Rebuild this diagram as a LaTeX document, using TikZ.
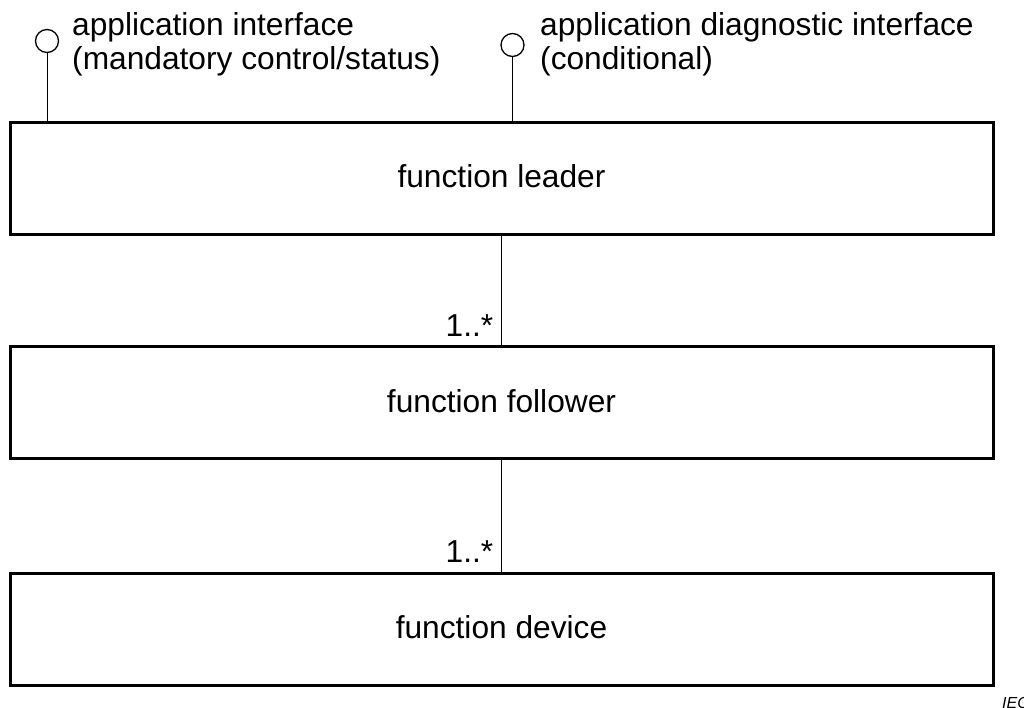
\documentclass[tikz,border=0pt]{standalone}
\usepackage{fontspec}
\setmainfont{Liberation Sans}
\begin{document}
\begin{tikzpicture}[x=1pt,y=-1pt,
  box/.style={draw=black, line width=3pt, minimum width=983pt, minimum height=112pt, inner sep=0pt,
    font=\fontsize{31.7}{34}\selectfont},
  lolli/.style={draw=black, circle, line width=1.3pt, minimum size=23pt, inner sep=0pt},
  conn/.style={draw=black, line width=1pt},
  toptext/.style={anchor=north west, align=left, inner sep=0pt, font=\fontsize{31.7}{34}\selectfont},
  mult/.style={anchor=base east, inner sep=0pt, font=\fontsize{31.7}{34}\selectfont}]
\useasboundingbox (0,0) rectangle (1024,708);
\node[box, text height=22pt, text depth=4pt] (b1) at (501.5,178.5) {function leader};
\node[box, text height=23pt, text depth=4pt] (b2) at (501.5,402.5) {function follower};
\node[box, text height=23pt, text depth=4pt] (b3) at (501.5,629) {function device};
\node[lolli] (c1) at (47,41) {};
\node[lolli] (c2) at (512.5,45) {};
\draw[conn] (c1.south) -- (c1.south |- b1.north);
\draw[conn] (c2.south) -- (c2.south |- b1.north);
\node[toptext] (t1) at (72,12) {application interface\\(mandatory control/status)};
\node[toptext] (t2) at (540,12) {application diagnostic interface\\(conditional)};
\draw[conn] (b1.south) -- (b2.north);
\draw[conn] (b2.south) -- (b3.north);
\node[mult] (m1) at ([xshift=-8pt,yshift=9pt]b2.north) {1..*};
\node[mult] (m2) at ([xshift=-8pt,yshift=9pt]b3.north) {1..*};
\node[anchor=base west, inner sep=0pt, font=\fontsize{16}{18}\selectfont\itshape] (iec) at (1002,708) {IEC};
\end{tikzpicture}
\end{document}
